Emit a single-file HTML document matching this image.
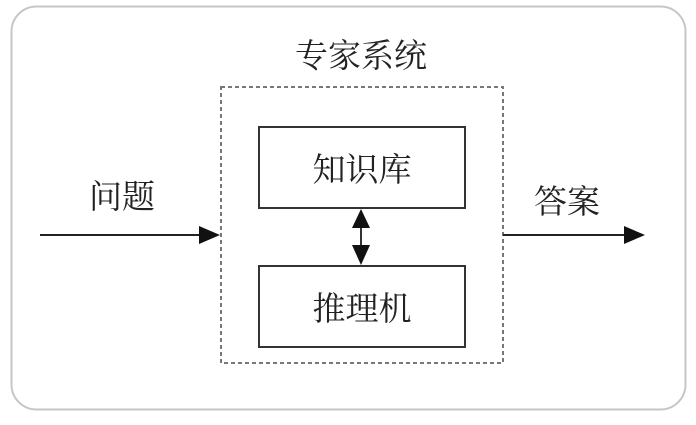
<!DOCTYPE html>
<html><head><meta charset="utf-8"><style>
body{margin:0;background:#fff;width:696px;height:420px;overflow:hidden}
</style></head><body>
<svg width="696" height="420" xmlns="http://www.w3.org/2000/svg" font-family="'Liberation Serif','Noto Serif CJK SC',serif">
<rect x="11.5" y="6.5" width="674" height="403" rx="25" fill="#fff" stroke="#c6c6c6" stroke-width="2"/>
<text x="361" y="67" font-size="33" text-anchor="middle" fill="#222">专家系统</text>
<rect x="221" y="87" width="282" height="276" fill="none" stroke="#777" stroke-width="2" stroke-dasharray="4,3"/>
<rect x="259" y="127" width="206" height="81" fill="#fff" stroke="#333" stroke-width="2"/>
<rect x="259" y="266" width="206" height="81" fill="#fff" stroke="#333" stroke-width="2"/>
<text x="362" y="181" font-size="33" text-anchor="middle" fill="#222">知识库</text>
<text x="362" y="320" font-size="33" text-anchor="middle" fill="#222">推理机</text>
<line x1="361" y1="225" x2="361" y2="250" stroke="#333" stroke-width="2"/>
<polygon points="361,209 352,228 370,228" fill="#111"/>
<polygon points="361,265 352,245 370,245" fill="#111"/>
<line x1="40" y1="235" x2="205" y2="235" stroke="#222" stroke-width="2"/>
<polygon points="220,235 199,226 199,244" fill="#111"/>
<line x1="503" y1="235" x2="628" y2="235" stroke="#222" stroke-width="2"/>
<polygon points="645,235 624,226 624,244" fill="#111"/>
<text x="122" y="208" font-size="33" text-anchor="middle" fill="#222">问题</text>
<text x="567" y="213" font-size="33" text-anchor="middle" fill="#222">答案</text>
</svg>
</body></html>
